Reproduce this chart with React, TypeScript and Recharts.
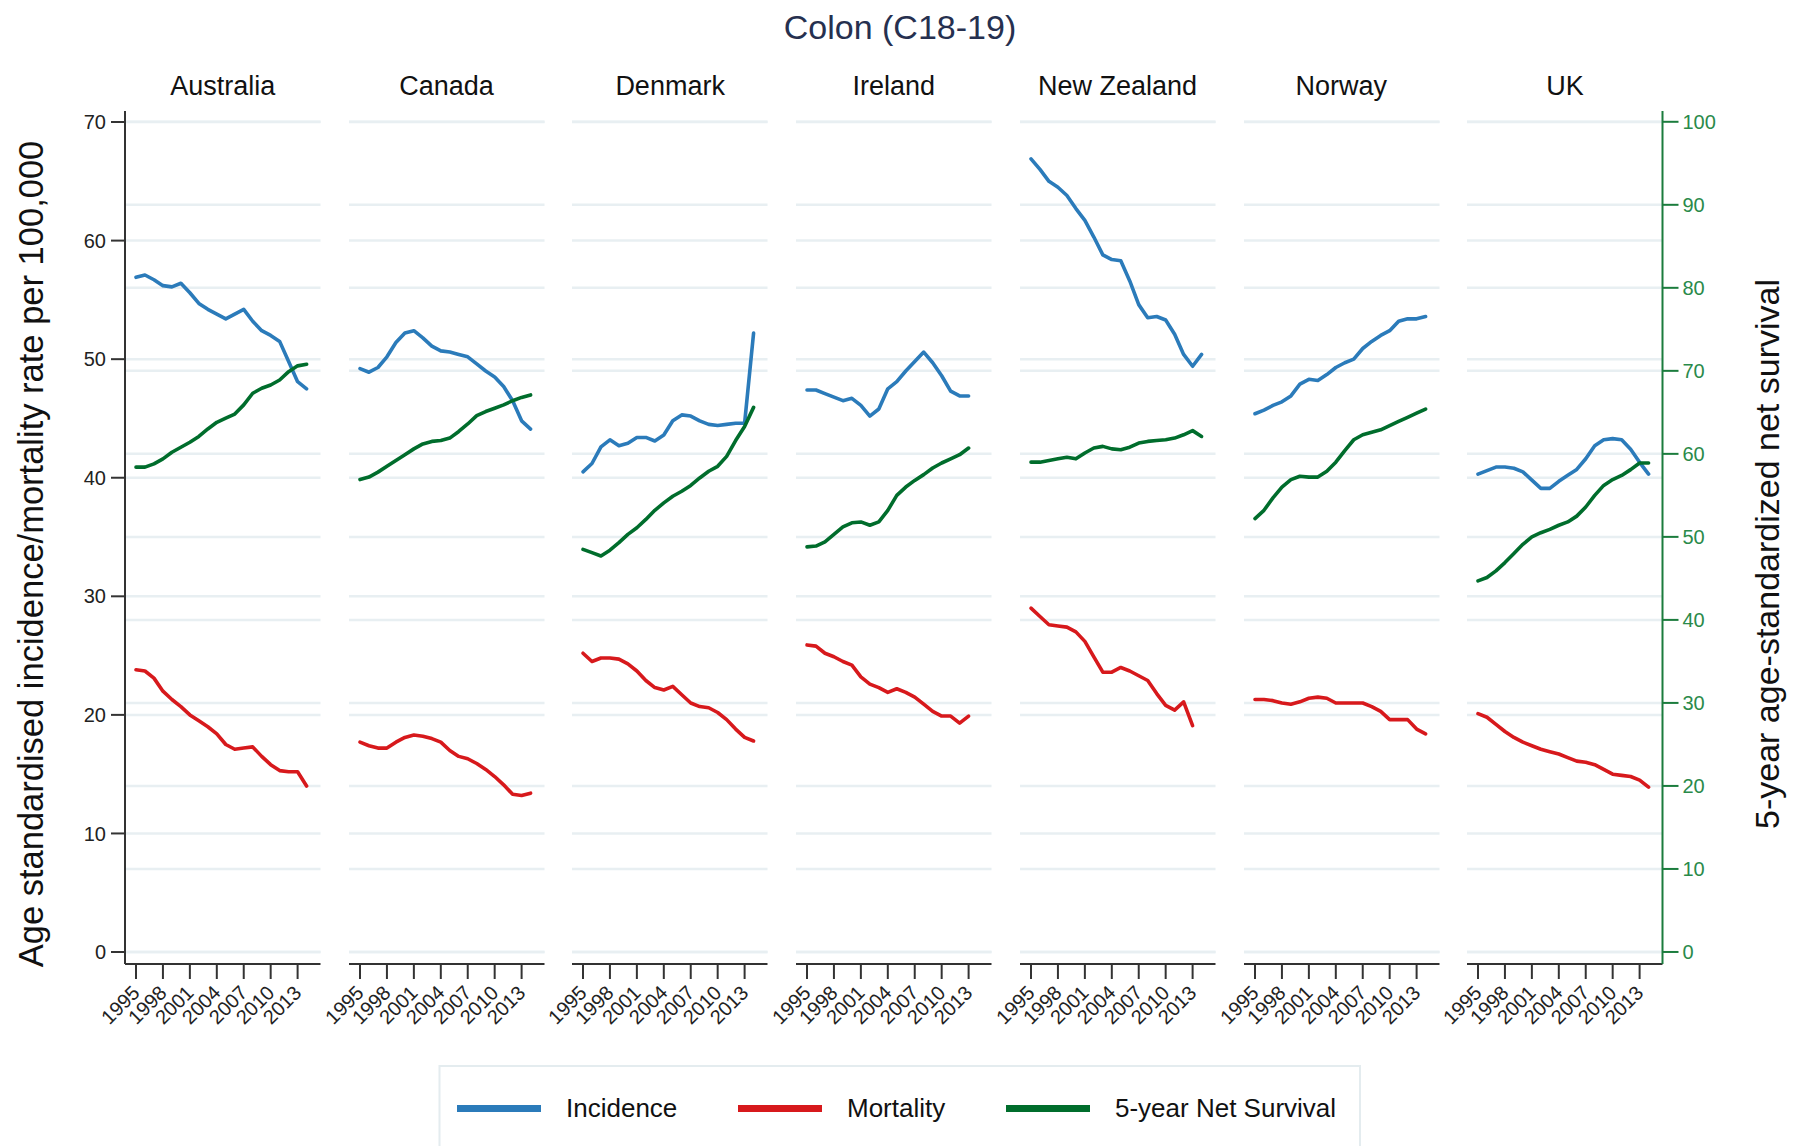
import { LineChart, Line, XAxis, YAxis, CartesianGrid } from "recharts";

const FONT = '"Liberation Sans", Arial, sans-serif';

const YEARS = [1995, 1996, 1997, 1998, 1999, 2000, 2001, 2002, 2003, 2004, 2005, 2006, 2007, 2008, 2009, 2010, 2011, 2012, 2013, 2014];
const YEAR_TICKS = [1995, 1998, 2001, 2004, 2007, 2010, 2013];
const LEFT_TICKS = [0, 10, 20, 30, 40, 50, 60, 70];
const RIGHT_TICKS = [0, 10, 20, 30, 40, 50, 60, 70, 80, 90, 100];

const COUNTRIES = ["Australia", "Canada", "Denmark", "Ireland", "New Zealand", "Norway", "UK"];

// incidence / mortality per 100,000 (left axis), 5-year net survival % (right axis)
const AUS_INC = [56.9, 57.1, 56.7, 56.2, 56.1, 56.4, 55.6, 54.7, 54.2, 53.8, 53.4, 53.8, 54.2, 53.2, 52.4, 52.0, 51.5, 49.8, 48.1, 47.5];
const AUS_MORT = [23.8, 23.7, 23.1, 22.0, 21.3, 20.7, 20.0, 19.5, 19.0, 18.4, 17.5, 17.1, 17.2, 17.3, 16.5, 15.8, 15.3, 15.2, 15.2, 14.0];
const AUS_SURV = [58.4, 58.4, 58.8, 59.4, 60.2, 60.8, 61.4, 62.1, 63.0, 63.8, 64.3, 64.8, 65.9, 67.3, 67.9, 68.3, 68.9, 69.9, 70.6, 70.8];

const CAN_INC = [49.2, 48.9, 49.3, 50.2, 51.4, 52.2, 52.4, 51.8, 51.1, 50.7, 50.6, 50.4, 50.2, 49.6, 49.0, 48.5, 47.7, 46.5, 44.8, 44.1];
const CAN_MORT = [17.7, 17.4, 17.2, 17.2, 17.7, 18.1, 18.3, 18.2, 18.0, 17.7, 17.0, 16.5, 16.3, 15.9, 15.4, 14.8, 14.1, 13.3, 13.2, 13.4];
const CAN_SURV = [56.9, 57.2, 57.8, 58.5, 59.2, 59.9, 60.6, 61.2, 61.5, 61.6, 61.9, 62.7, 63.6, 64.6, 65.1, 65.5, 65.9, 66.4, 66.8, 67.1];

const DEN_INC = [40.5, 41.2, 42.6, 43.2, 42.7, 42.9, 43.4, 43.4, 43.1, 43.6, 44.8, 45.3, 45.2, 44.8, 44.5, 44.4, 44.5, 44.6, 44.6, 52.2];
const DEN_MORT = [25.2, 24.5, 24.8, 24.8, 24.7, 24.3, 23.7, 22.9, 22.3, 22.1, 22.4, 21.7, 21.0, 20.7, 20.6, 20.2, 19.6, 18.8, 18.1, 17.8];
const DEN_SURV = [48.5, 48.1, 47.7, 48.4, 49.3, 50.3, 51.1, 52.1, 53.2, 54.1, 54.9, 55.5, 56.2, 57.1, 57.9, 58.5, 59.7, 61.6, 63.3, 65.6];

const IRE_INC = [47.4, 47.4, 47.1, 46.8, 46.5, 46.7, 46.1, 45.2, 45.8, 47.5, 48.1, 49.0, 49.8, 50.6, 49.7, 48.6, 47.3, 46.9, 46.9];
const IRE_MORT = [25.9, 25.8, 25.2, 24.9, 24.5, 24.2, 23.2, 22.6, 22.3, 21.9, 22.2, 21.9, 21.5, 20.9, 20.3, 19.9, 19.9, 19.3, 19.9];
const IRE_SURV = [48.8, 48.9, 49.4, 50.3, 51.2, 51.7, 51.8, 51.4, 51.8, 53.2, 55.0, 56.0, 56.8, 57.5, 58.3, 58.9, 59.4, 59.9, 60.7];

const NZ_INC = [66.9, 66.0, 65.0, 64.5, 63.8, 62.7, 61.7, 60.3, 58.8, 58.4, 58.3, 56.6, 54.6, 53.5, 53.6, 53.3, 52.1, 50.4, 49.4, 50.4];
const NZ_MORT = [29.0, 28.3, 27.6, 27.5, 27.4, 27.0, 26.2, 24.9, 23.6, 23.6, 24.0, 23.7, 23.3, 22.9, 21.8, 20.8, 20.4, 21.1, 19.1];
const NZ_SURV = [59.0, 59.0, 59.2, 59.4, 59.6, 59.4, 60.1, 60.7, 60.9, 60.6, 60.5, 60.8, 61.3, 61.5, 61.6, 61.7, 61.9, 62.3, 62.8, 62.1];

const NOR_INC = [45.4, 45.7, 46.1, 46.4, 46.9, 47.9, 48.3, 48.2, 48.7, 49.3, 49.7, 50.0, 50.9, 51.5, 52.0, 52.4, 53.2, 53.4, 53.4, 53.6];
const NOR_MORT = [21.3, 21.3, 21.2, 21.0, 20.9, 21.1, 21.4, 21.5, 21.4, 21.0, 21.0, 21.0, 21.0, 20.7, 20.3, 19.6, 19.6, 19.6, 18.8, 18.4];
const NOR_SURV = [52.2, 53.2, 54.7, 56.0, 56.9, 57.3, 57.2, 57.2, 57.9, 59.0, 60.4, 61.7, 62.3, 62.6, 62.9, 63.4, 63.9, 64.4, 64.9, 65.4];

const UK_INC = [40.3, 40.6, 40.9, 40.9, 40.8, 40.5, 39.8, 39.1, 39.1, 39.7, 40.2, 40.7, 41.6, 42.7, 43.2, 43.3, 43.2, 42.4, 41.3, 40.3];
const UK_MORT = [20.1, 19.8, 19.2, 18.6, 18.1, 17.7, 17.4, 17.1, 16.9, 16.7, 16.4, 16.1, 16.0, 15.8, 15.4, 15.0, 14.9, 14.8, 14.5, 13.9];
const UK_SURV = [44.7, 45.1, 45.9, 46.9, 48.0, 49.1, 50.0, 50.5, 50.9, 51.4, 51.8, 52.5, 53.6, 55.0, 56.2, 56.9, 57.4, 58.1, 58.9, 58.9];

const PANEL_DATA = [
  [AUS_INC, AUS_MORT, AUS_SURV],
  [CAN_INC, CAN_MORT, CAN_SURV],
  [DEN_INC, DEN_MORT, DEN_SURV],
  [IRE_INC, IRE_MORT, IRE_SURV],
  [NZ_INC, NZ_MORT, NZ_SURV],
  [NOR_INC, NOR_MORT, NOR_SURV],
  [UK_INC, UK_MORT, UK_SURV],
];

const SERIES = [
  { key: "inc", name: "Incidence", color: "#2b7bba", axis: "L" },
  { key: "mort", name: "Mortality", color: "#d7191c", axis: "L" },
  { key: "surv", name: "5-year Net Survival", color: "#006d2c", axis: "R" },
];

// layout (px)
const PLOT_LEFT = 125;
const PITCH = 223.7;
const PLOT_W = 195.5;
const PLOT_TOP = 111;
const PLOT_H = 853;
const TOP_PAD = 10;
const X_AXIS_H = 75;
const LEFT_W = 60;
const RIGHT_W = 80;
const GAP_PAD = 30;
const GREEN_AXIS = "#1b7c3d";
const GRID = "#e8eff2";
const LEGEND_X = [457, 738, 1006];

function YearTick(props: any) {
  const { x, y, payload } = props;
  const ax = x + 5;
  const ay = y + 13;
  return (
    <text
      x={ax}
      y={ay}
      transform={`rotate(-45 ${ax} ${ay})`}
      textAnchor="end"
      fontSize={20}
      fill="#222"
      fontFamily={FONT}
    >
      {payload.value}
    </text>
  );
}

function Panel({ idx }: { idx: number }) {
  const first = idx === 0;
  const last = idx === COUNTRIES.length - 1;
  const [inc, mort, surv] = PANEL_DATA[idx];
  const rows = YEARS.map((year, i) => ({ year, inc: inc[i], mort: mort[i], surv: surv[i] }));

  const padL = first ? LEFT_W : GAP_PAD;
  const padR = last ? RIGHT_W : 4;
  const left = PLOT_LEFT + idx * PITCH - padL;

  return (
    <div style={{ position: "absolute", left, top: PLOT_TOP - TOP_PAD }}>
      <LineChart
        width={padL + PLOT_W + padR}
        height={TOP_PAD + PLOT_H + X_AXIS_H}
        data={rows}
        margin={{ top: TOP_PAD, right: last ? 0 : padR, bottom: 0, left: first ? 0 : padL }}
      >
        <CartesianGrid yAxisId="L" vertical={false} horizontalValues={LEFT_TICKS} stroke={GRID} strokeWidth={2.5} />
        <CartesianGrid yAxisId="R" vertical={false} horizontalValues={RIGHT_TICKS} stroke={GRID} strokeWidth={2.5} />
        <XAxis
          dataKey="year"
          type="number"
          domain={[1993.775, 2015.55]}
          ticks={YEAR_TICKS}
          interval={0}
          height={X_AXIS_H}
          tickSize={15}
          axisLine={{ stroke: "#333", strokeWidth: 2 }}
          tickLine={{ stroke: "#333", strokeWidth: 2 }}
          tick={(p: any) => <YearTick {...p} />}
          allowDataOverflow
        />
        <YAxis
          yAxisId="L"
          type="number"
          domain={[-1.01, 70.93]}
          ticks={LEFT_TICKS}
          interval={0}
          hide={!first}
          width={LEFT_W}
          tickSize={14}
          tickMargin={5}
          axisLine={{ stroke: "#333", strokeWidth: 2 }}
          tickLine={{ stroke: "#333", strokeWidth: 2 }}
          tick={{ fontSize: 20, fill: "#222", fontFamily: FONT }}
          allowDataOverflow
        />
        <YAxis
          yAxisId="R"
          orientation="right"
          type="number"
          domain={[-1.45, 101.3]}
          ticks={RIGHT_TICKS}
          interval={0}
          hide={!last}
          width={RIGHT_W}
          tickSize={16}
          tickMargin={4}
          axisLine={{ stroke: GREEN_AXIS, strokeWidth: 2 }}
          tickLine={{ stroke: GREEN_AXIS, strokeWidth: 2 }}
          tick={{ fontSize: 20, fill: "#2a8a4a", fontFamily: FONT }}
          allowDataOverflow
        />
        {SERIES.map((s) => (
          <Line
            key={s.key}
            yAxisId={s.axis}
            dataKey={s.key}
            name={s.name}
            type="linear"
            stroke={s.color}
            strokeWidth={3.6}
            strokeLinejoin="round"
            strokeLinecap="round"
            dot={false}
            activeDot={false}
            isAnimationActive={false}
          />
        ))}
      </LineChart>
    </div>
  );
}

export default function App() {
  return (
    <div
      style={{
        position: "relative",
        width: 1805,
        height: 1146,
        overflow: "hidden",
        background: "#fff",
        fontFamily: FONT,
      }}
    >
      <style>{"body{margin:0}"}</style>
      <svg width={1805} height={1146} style={{ position: "absolute", left: 0, top: 0 }}>
        <text x={900} y={39} textAnchor="middle" fontSize={34} fill="#26304f" fontFamily={FONT}>
          Colon (C18-19)
        </text>
        {COUNTRIES.map((c, k) => (
          <text
            key={c}
            x={PLOT_LEFT + k * PITCH + PLOT_W / 2}
            y={95}
            textAnchor="middle"
            fontSize={27}
            fill="#111"
            fontFamily={FONT}
          >
            {c}
          </text>
        ))}
        <text
          x={43}
          y={554}
          transform="rotate(-90 43 554)"
          textAnchor="middle"
          fontSize={34.5}
          fill="#111"
          fontFamily={FONT}
        >
          Age standardised incidence/mortality rate per 100,000
        </text>
        <text
          x={1779}
          y={554}
          transform="rotate(-90 1779 554)"
          textAnchor="middle"
          fontSize={34}
          fill="#111"
          fontFamily={FONT}
        >
          5-year age-standardized net survival
        </text>
        <rect x={439.5} y={1066} width={920.5} height={120} fill="none" stroke="#e4ecef" strokeWidth={2} />
        {SERIES.map((s, i) => (
          <g key={s.key}>
            <rect x={LEGEND_X[i]} y={1105} width={84} height={7} fill={s.color} />
            <text x={LEGEND_X[i] + 109} y={1117} fontSize={26} fill="#111" fontFamily={FONT}>
              {s.name}
            </text>
          </g>
        ))}
      </svg>
      {COUNTRIES.map((c, k) => (
        <Panel key={c} idx={k} />
      ))}
    </div>
  );
}
